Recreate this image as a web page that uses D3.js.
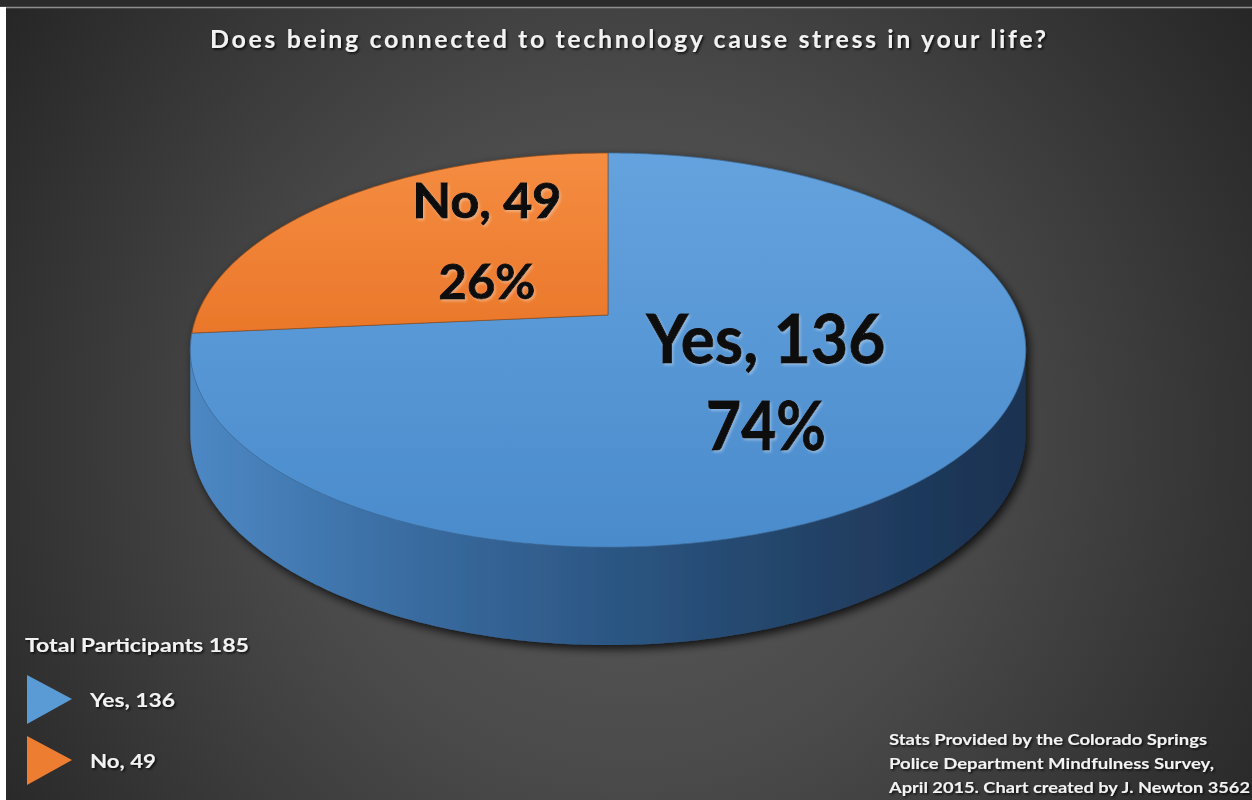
<!DOCTYPE html>
<html><head><meta charset="utf-8">
<script src="https://cdn.jsdelivr.net/npm/d3@7"></script>
<style>html,body{margin:0;padding:0;background:#fff;}svg{display:block;}</style>
</head><body>
<script>
const categories = ["Yes", "No"];
const values = [136, 49];
const percents = ["74%", "26%"];
const title = "Does being connected to technology cause stress in your life?";
const legendTitle = "Total Participants 185";
const footnote = ["Stats Provided by the Colorado Springs", "Police Department Mindfulness Survey,", "April 2015. Chart created by J. Newton 3562"];

const W = 1252, H = 800;
const svg = d3.select("body").append("svg").attr("width", W).attr("height", H);
const defs = svg.append("defs");

// background
const bg = defs.append("radialGradient").attr("id","bg").attr("gradientUnits","userSpaceOnUse")
  .attr("cx",630).attr("cy",440).attr("r",760);
bg.append("stop").attr("offset",0).attr("stop-color","#5b5b5b");
bg.append("stop").attr("offset",0.45).attr("stop-color","#4a4a4a");
bg.append("stop").attr("offset",1).attr("stop-color","#262626");
svg.append("rect").attr("width",W).attr("height",H).attr("fill","url(#bg)");
svg.append("rect").attr("width",W).attr("height",7).attr("fill","#2b2b2b");
svg.append("line").attr("x1",0).attr("x2",W).attr("y1",7.5).attr("y2",7.5).attr("stroke","#8e8e8e").attr("stroke-width",1.5);
svg.append("rect").attr("x",0).attr("y",7).attr("width",6).attr("height",H-7).attr("fill","#ffffff");

// filters
const sh = defs.append("filter").attr("id","pieShadow").attr("x","-10%").attr("y","-10%").attr("width","120%").attr("height","125%");
sh.append("feGaussianBlur").attr("in","SourceAlpha").attr("stdDeviation",5);
sh.append("feOffset").attr("dx",3).attr("dy",4).attr("result","b");
sh.append("feComponentTransfer").append("feFuncA").attr("type","linear").attr("slope",0.8);
const m = sh.append("feMerge"); m.append("feMergeNode"); m.append("feMergeNode").attr("in","SourceGraphic");

const ts = defs.append("filter").attr("id","txtShadow").attr("x","-5%").attr("y","-20%").attr("width","110%").attr("height","150%");
ts.append("feDropShadow").attr("dx",1.5).attr("dy",1.5).attr("stdDeviation",1).attr("flood-color","#000").attr("flood-opacity",0.8);
const ls = defs.append("filter").attr("id","lblShadow").attr("x","-5%").attr("y","-20%").attr("width","110%").attr("height","150%");
ls.append("feDropShadow").attr("dx",1.5).attr("dy",2).attr("stdDeviation",1.2).attr("flood-color","#ffffff").attr("flood-opacity",0.3);

// gradients
const sideG = defs.append("linearGradient").attr("id","sideG").attr("gradientUnits","userSpaceOnUse")
  .attr("x1",190).attr("x2",1030).attr("y1",0).attr("y2",0);
[[0,"#4d88c4"],[0.22,"#3c70a6"],[0.5,"#2c5683"],[0.78,"#213f62"],[1,"#1a3150"]].forEach(s=>sideG.append("stop").attr("offset",s[0]).attr("stop-color",s[1]));
const topB = defs.append("linearGradient").attr("id","topB").attr("gradientUnits","userSpaceOnUse")
  .attr("x1",0).attr("x2",0).attr("y1",150).attr("y2",550);
topB.append("stop").attr("offset",0).attr("stop-color","#65a3de");
topB.append("stop").attr("offset",1).attr("stop-color","#4a8bcc");
const topO = defs.append("linearGradient").attr("id","topO").attr("gradientUnits","userSpaceOnUse")
  .attr("x1",0).attr("x2",0).attr("y1",150).attr("y2",335);
topO.append("stop").attr("offset",0).attr("stop-color","#f58d42");
topO.append("stop").attr("offset",1).attr("stop-color","#ea772a");

const fills = {Yes:"url(#topB)", No:"url(#topO)"};
const legendColors = {Yes:"#5b9bd5", No:"#ed7d31"};

// 3D projection of the pie
const cx = 608, cy = 315, R = 411, Ry = 190.8, p = 0.178, depth = 80.5;
const rScale = d3.scaleLinear().domain([0,1]).range([0,R]);
function proj(a, r, z) {
  const s = 1/(1 + p*r*Math.cos(a));
  return [cx + rScale(r)*Math.sin(a)*s, cy - Ry*r*Math.cos(a)*s + depth*z*s];
}
function arcPts(a0, a1, z) {
  const n = Math.max(2, Math.ceil(Math.abs(a1-a0)/0.01));
  return d3.range(n+1).map(i => proj(a0 + (a1-a0)*i/n, 1, z));
}
const line = d3.line();

const arcs = d3.pie().sort(null).value(d=>d)(values);

const g = svg.append("g").attr("filter","url(#pieShadow)");
const aR = Math.acos(-p), aL = 2*Math.PI - aR;
arcs.forEach((d,i)=>{
  const a0 = Math.max(d.startAngle, aR), a1 = Math.min(d.endAngle, aL);
  if (a1 <= a0) return;
  const pts = arcPts(a0,a1,0).concat(arcPts(a1,a0,1));
  g.append("path").attr("d", line(pts)+"Z").attr("fill", i===0 ? "url(#sideG)" : "#b85d1e");
});
arcs.forEach((d,i)=>{
  const pts = [proj(0,0,0)].concat(arcPts(d.startAngle,d.endAngle,0));
  g.append("path").attr("d", line(pts)+"Z").attr("fill", fills[categories[i]])
    .attr("stroke", i===1 ? "#8a4a1c" : "#3d6e9e").attr("stroke-width",1).attr("stroke-opacity",0.7);
});

// title
svg.append("text").attr("x",628).attr("y",48).attr("text-anchor","middle")
  .attr("font-family","Lato").attr("font-weight","bold").attr("font-size",25)
  .attr("fill","#f2f2f2").attr("filter","url(#txtShadow)")
  .attr("textLength",836).attr("lengthAdjust","spacing").text(title);

// slice labels
const lbl = [
  {x:766, y1:363, y2:450, fs:66, w1:239, w2:120},
  {x:487, y1:218, y2:299, fs:48, w1:149, w2:97}
];
arcs.forEach((d,i)=>{
  const L = lbl[i];
  const t = svg.append("g").attr("filter","url(#lblShadow)")
    .attr("font-family","Lato").attr("font-weight","bold").attr("font-size",L.fs).attr("fill","#0d0d0d").attr("text-anchor","middle")
    .attr("stroke","#0d0d0d").attr("stroke-width",1);
  t.append("text").attr("x",L.x).attr("y",L.y1).attr("textLength",L.w1).attr("lengthAdjust","spacingAndGlyphs")
    .text(categories[i]+", "+values[i]);
  t.append("text").attr("x",L.x).attr("y",L.y2).attr("textLength",L.w2).attr("lengthAdjust","spacingAndGlyphs")
    .text(percents[i]);
});

// legend
svg.append("text").attr("x",25).attr("y",652).attr("font-family","Lato").attr("font-weight","bold")
  .attr("font-size",19).attr("fill","#f2f2f2").attr("filter","url(#txtShadow)")
  .attr("textLength",224).attr("lengthAdjust","spacingAndGlyphs").text(legendTitle);
const legY = d3.scalePoint().domain(categories).range([699, 760]);
categories.forEach((c,i)=>{
  const y = legY(c);
  svg.append("path").attr("d", `M27,${y-24}L72,${y}L27,${y+25}Z`).attr("fill", legendColors[c]);
  svg.append("text").attr("x",90).attr("y",y+8).attr("font-family","Lato").attr("font-weight","bold")
    .attr("font-size",19).attr("fill","#f2f2f2").attr("filter","url(#txtShadow)")
    .attr("textLength", i===0?85:66).attr("lengthAdjust","spacingAndGlyphs")
    .text(c+", "+values[i]);
});

// footnote
const fW = [318, 325, 361];
footnote.forEach((s,i)=>{
  svg.append("text").attr("x",889).attr("y",745+i*24).attr("font-family","Lato").attr("font-weight","bold")
    .attr("font-size",15).attr("fill","#f2f2f2").attr("filter","url(#txtShadow)")
    .attr("textLength",fW[i]).attr("lengthAdjust","spacingAndGlyphs").text(s);
});
</script>
</body></html>
